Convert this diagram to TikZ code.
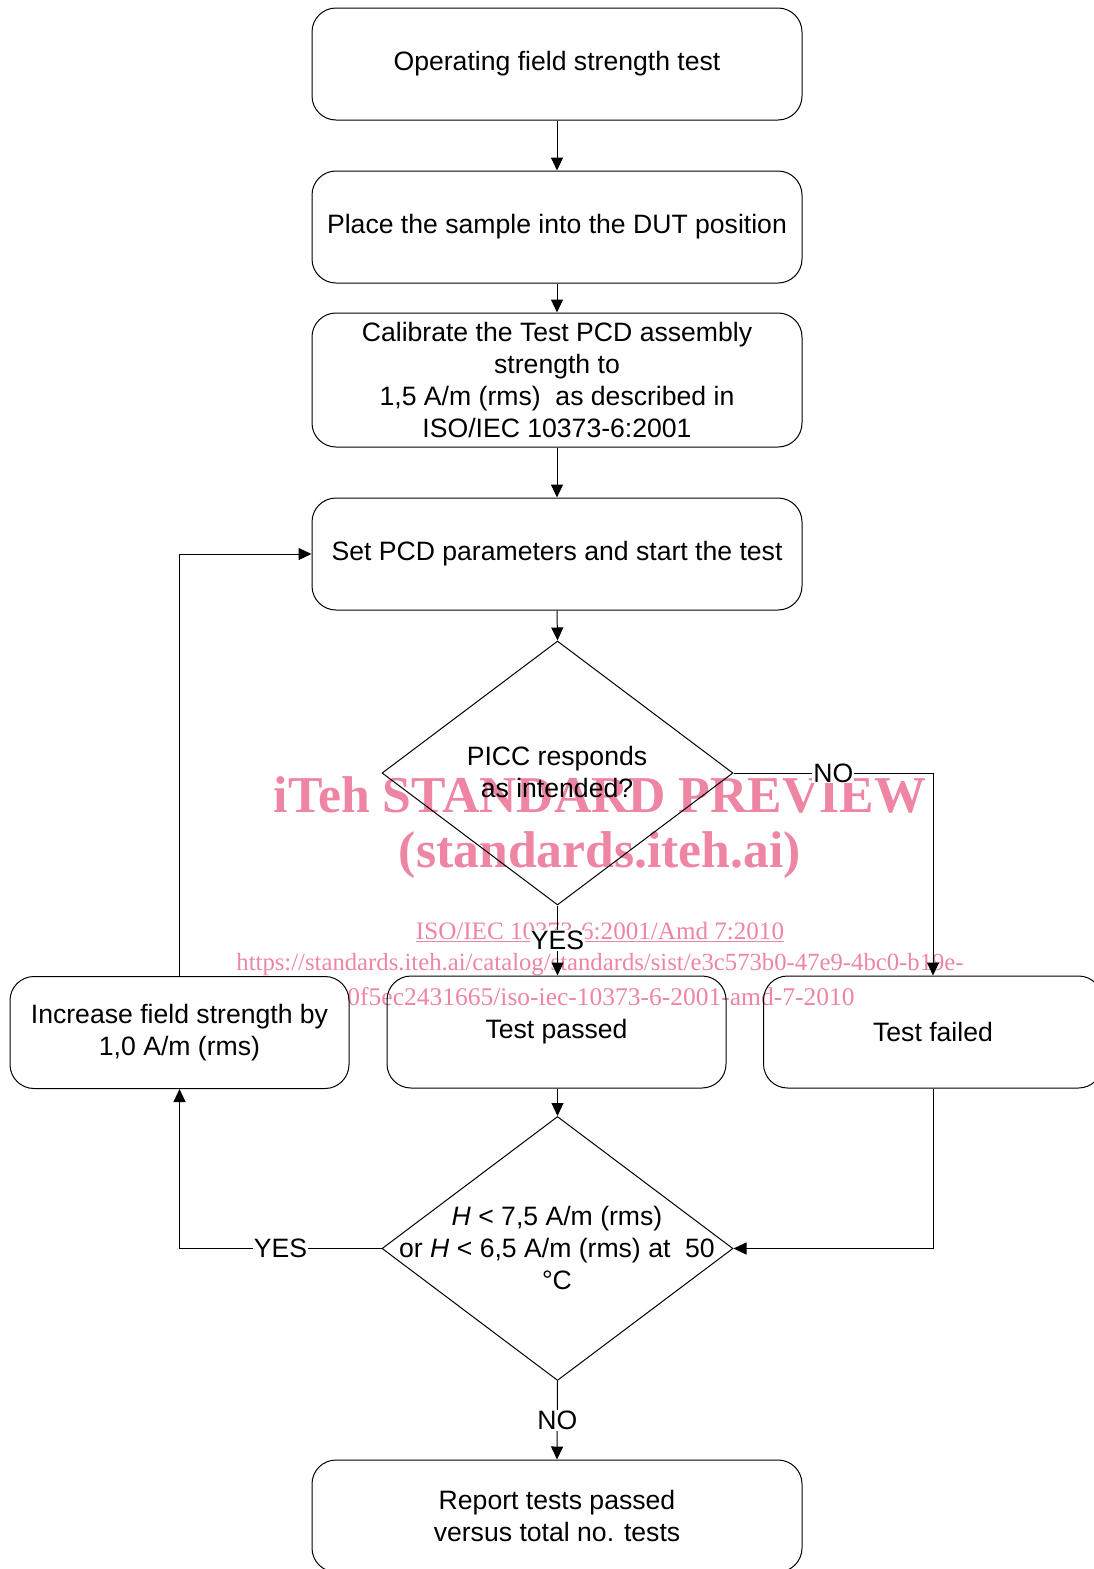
\documentclass[tikz,border=0pt]{standalone}
\usepackage{fontspec}
\setmainfont{Liberation Sans}
\newfontfamily\wmfont{Liberation Serif}
\usetikzlibrary{arrows.meta,shapes.geometric}
\definecolor{wmpink}{RGB}{237,133,163}
\begin{document}
\begin{tikzpicture}[x=1pt,y=-1pt,
  every node/.style={font=\fontsize{26.6}{32}\selectfont},
  box/.style={draw, line width=1pt, rounded corners=24pt, minimum width=490pt, minimum height=112pt, inner sep=0pt, align=center},
  sbox/.style={box, minimum width=339pt},
  dia/.style={draw, line width=1pt, diamond, minimum width=351pt, minimum height=264pt, inner sep=0pt},
  txt/.style={align=center, inner sep=0pt},
  lbl/.style={fill=white, inner sep=1pt},
  arr/.style={line width=1pt, -{Triangle[length=13pt,width=12pt]}},
  wm/.style={text=wmpink, inner sep=0pt}
]
\useasboundingbox (0,0) rectangle (1094,1569);
\clip (0,0) rectangle (1094,1569);

% watermark (behind)
\node[wm, font=\wmfont\bfseries\fontsize{51.7}{52}\selectfont] (wm1) at (600,795) {iTeh STANDARD PREVIEW};
\node[wm, font=\wmfont\bfseries\fontsize{51.7}{52}\selectfont] (wm2) at (600,855) {(standards.iteh.ai)};
\node[wm, font=\wmfont\fontsize{25.1}{26}\selectfont] (wm3) at (600,932) {\underline{ISO/IEC 10373-6:2001/Amd 7:2010}};
\node[wm, font=\wmfont\fontsize{24.7}{26}\selectfont] (wm4) at (600,965) {https://standards.iteh.ai/catalog/standards/sist/e3c573b0-47e9-4bc0-b19e-};
\node[wm, font=\wmfont\fontsize{25.5}{26}\selectfont] (wm5) at (601,997) {0f5ec2431665/iso-iec-10373-6-2001-amd-7-2010};

% boxes
\node[box] (b1) at (557,64) {Operating field strength test};
\node[box] (b2) at (557,227) {Place the sample into the DUT position};
\node[box, minimum height=134pt] (b3) at (557,380) {Calibrate the Test PCD assembly\\strength to\\1,5 A/m (rms)\ \ as described in\\ISO/IEC 10373-6:2001};
\node[box] (b4) at (557,554) {Set PCD parameters and start the test};
\node[dia] (d1) at (557.5,773) {};
\node[txt] (d1t) at (557,772) {PICC responds\\as intended?};
\node[sbox] (tp) at (556.5,1032) {Test passed};
\node[sbox] (tf) at (933,1032) {Test failed};
\node[sbox] (inc) at (179.5,1032.5) {Increase field strength by\\1,0 A/m (rms)};
\node[dia] (d2) at (557.5,1248.5) {};
\node[txt] (d2t) at (557,1248) {\textit{H} < 7,5 A/m (rms)\\or \textit{H} < 6,5 A/m (rms) at\ \ 50\\°C};
\node[box] (rep) at (557,1516) {Report tests passed\\versus total no. tests};

% connectors
\draw[arr] (b1.south) -- (b2.north);
\draw[arr] (b2.south) -- (b3.north);
\draw[arr] (b3.south) -- (b4.north);
\draw[arr] (b4.south) -- (d1.north);
\draw[arr] (d1.south) -- node[lbl] {YES} (d1.south |- tp.north);
\coordinate (c1) at (d1.east -| tf.north);
\draw[arr] (d1.east) -- node[lbl] {NO} (c1) -- (tf.north);
\draw[arr] (tp.south -| d2.north) -- (d2.north);
\draw[arr] (tf.south) |- (d2.east);
\coordinate (c2) at (d2.west -| inc.south);
\draw[arr] (d2.west) -- node[lbl] {YES} (c2) -- (inc.south);
\draw[arr] (inc.north) |- (b4.west);
\draw[arr] (d2.south) -- node[lbl] {NO} (rep.north);
\end{tikzpicture}
\end{document}
